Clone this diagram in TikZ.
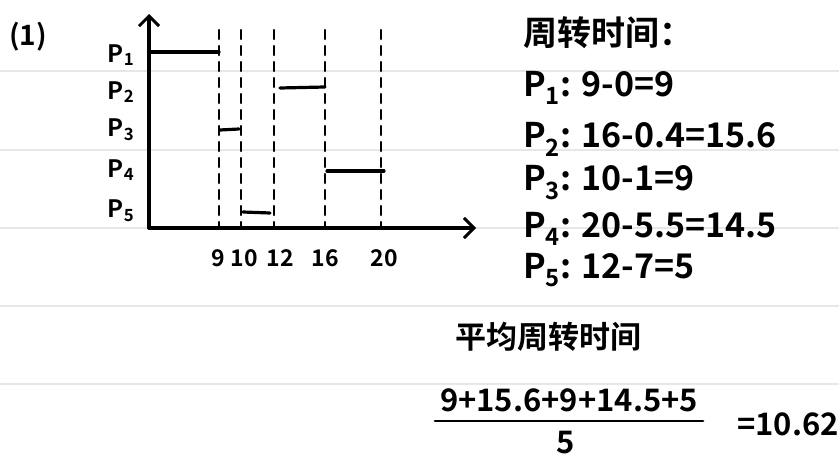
\documentclass[tikz,border=0pt]{standalone}
\usepackage{fontspec}
\setmainfont{Noto Sans CJK SC}[BoldFont={Noto Sans CJK SC Bold}]
\usetikzlibrary{arrows.meta}
\definecolor{ruleline}{RGB}{228,232,232}
\newcommand{\Pn}[1]{P\textsubscript{#1}}

\begin{document}
\begin{tikzpicture}[x=1pt,y=-1pt,line cap=round,
    every node/.style={font=\bfseries},
    rule/.style={ruleline,line width=1.2pt},
    axis/.style={line width=3.4pt,-{Straight Barb[length=10pt,width=20pt,line width=3pt]}},
    bar/.style={line width=3.2pt},
    cut/.style={line width=2.2pt,dash pattern=on 9pt off 7pt},
    plab/.style={font=\bfseries\fontsize{24}{26}\selectfont},
    tlab/.style={font=\bfseries\fontsize{23}{25}\selectfont,inner sep=0pt},
    big/.style={font=\bfseries\fontsize{34}{38}\selectfont,anchor=west,inner sep=0pt},
    mid/.style={font=\bfseries\fontsize{31}{34}\selectfont,inner sep=0pt}]
				\useasboundingbox (0,0) rectangle (839,460);
				\fill[white] (0,0) rectangle (839,460);
				\foreach \y in {71,150,228,306,384}
					\draw[rule] (0,\y) -- (839,\y);
				\node[font=\bfseries\fontsize{28}{30}\selectfont] (part) at (28,37) {(1)};
				% axes
				\coordinate (O) at (149,228);
				\coordinate (ytop) at (149,14);
				\coordinate (xend) at (476,228);
				\draw[axis] (O) -- (ytop);
				\draw[axis] (O) -- (xend);
				% process labels
				\foreach \i/\y in {1/55,2/92,3/130,4/170,5/211}
					\node[plab] (p\i) at (121,\y) {\Pn{\i}};
				% cut lines and ticks
				\foreach \t/\x/\lx in {9/219/218,10/241/244,12/274/280,16/325/325,20/381/384}{
					\coordinate (c\t) at (\x,30);
					\coordinate (b\t) at (\x,228);
					\draw[cut] (c\t) -- (b\t);
					\node[tlab] (t\t) at (\lx,258) {\t};
				}
				% execution bars
				\draw[bar] (150,52) -- (219,52);
				\draw[bar] (280,88) -- (325,87);
				\draw[bar] (220,130) -- (239,129);
				\draw[bar] (327,171) -- (384,171);
				\draw[bar] (243,212) -- (270,213);
				% turnaround times
				\node[big] (tat) at (523,33) {周转时间：};
				\node[big] (tat1) at (523,88) {\Pn{1}: 9-0=9};
				\node[big] (tat2) at (523,139) {\Pn{2}: 16-0.4=15.6};
				\node[big] (tat3) at (523,183) {\Pn{3}: 10-1=9};
				\node[big] (tat4) at (523,229) {\Pn{4}: 20-5.5=14.5};
				\node[big] (tat5) at (523,270) {\Pn{5}: 12-7=5};
				% average
				\node[mid,anchor=west] (avg) at (455,337) {平均周转时间};
				\node[mid] (num) at (569,400) {9+15.6+9+14.5+5};
				\coordinate (fl) at (435,421);
				\coordinate (fr) at (703,421);
				\draw[line width=2.8pt] (fl) -- (fr);
				\node[mid] (den) at (566,443) {5};
				\node[mid,anchor=west] (res) at (737,424) {=10.62};
			\end{tikzpicture}
\end{document}
